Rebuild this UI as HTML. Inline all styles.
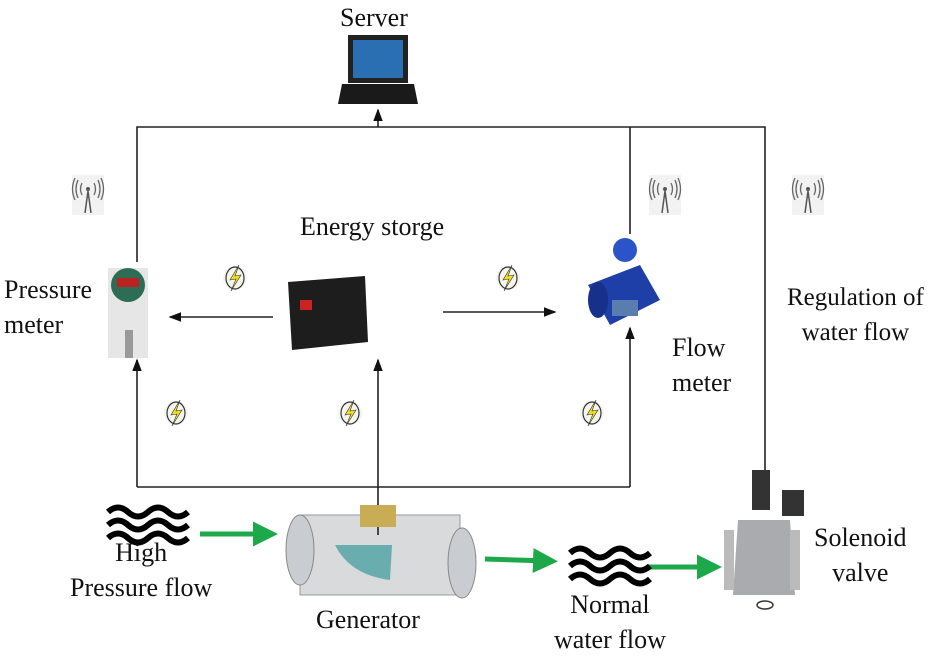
<!DOCTYPE html>
<html><head><meta charset="utf-8"><style>
html,body{margin:0;padding:0;background:#fff}
body{width:950px;height:652px;position:relative;overflow:hidden;font-family:"Liberation Serif",serif;color:#111}
.t{position:absolute;font-size:26px;line-height:35px;text-align:center;white-space:nowrap}
svg{position:absolute;left:0;top:0}
</style></head><body>
<svg width="950" height="652" viewBox="0 0 950 652">
<defs>
<marker id="a" markerWidth="8" markerHeight="8" refX="7" refY="4" orient="auto"><path d="M0,1 L8,4 L0,7z" fill="#111"/></marker>
<marker id="g" markerWidth="5" markerHeight="5" refX="3" refY="2.5" orient="auto"><path d="M0,0 L5,2.5 L0,5z" fill="#1da84a"/></marker>
<g id="bolt"><circle cx="0" cy="0" r="12" fill="#f4f4f0"/><ellipse cx="0" cy="0" rx="9" ry="11" fill="none" stroke="#333" stroke-width="1.2"/><path d="M4,-13 L-5,2 L1,1 L-4,13 L6,-3 L0,-2z" fill="#f2e020" stroke="#333" stroke-width="0.6"/></g>
<g id="ant"><rect x="-16" y="-18" width="32" height="40" fill="#f2f2f2"/><path d="M-3,20 L0,-2 L3,20" fill="none" stroke="#555" stroke-width="1.5"/><circle cx="0" cy="-4" r="2" fill="#555"/><path d="M-6,-10 Q-9,-4 -6,2 M6,-10 Q9,-4 6,2 M-10,-13 Q-14,-4 -10,5 M10,-13 Q14,-4 10,5 M-13,-15 Q-18,-4 -13,7 M13,-15 Q18,-4 13,7" fill="none" stroke="#666" stroke-width="1.3"/></g>
<g id="wave" fill="none" stroke="#000" stroke-width="6"><path d="M0,0 Q10,-9 20,0 T40,0 T60,0 T80,0"/><path d="M0,13 Q10,4 20,13 T40,13 T60,13 T80,13"/><path d="M0,26 Q10,17 20,26 T40,26 T60,26 T80,26"/></g>
</defs>
<g fill="none" stroke="#222" stroke-width="1.6">
<polyline points="137,262 137,127 765,127 765,470"/>
<line x1="630" y1="127" x2="630" y2="234"/>
<line x1="378" y1="127" x2="378" y2="110" marker-end="url(#a)"/>
<polyline points="137,487 630,487"/>
<line x1="137" y1="487" x2="137" y2="360" marker-end="url(#a)"/>
<line x1="378" y1="535" x2="378" y2="360" marker-end="url(#a)"/>
<line x1="630" y1="487" x2="630" y2="328" marker-end="url(#a)"/>
<line x1="273" y1="317" x2="170" y2="317" marker-end="url(#a)"/>
<line x1="443" y1="312" x2="555" y2="312" marker-end="url(#a)"/>
</g>
<g stroke="#1da84a" stroke-width="5" marker-end="url(#g)">
<line x1="200" y1="534" x2="268" y2="534"/>
<line x1="485" y1="559" x2="548" y2="561"/>
<line x1="648" y1="567" x2="712" y2="567"/>
</g>
<!-- laptop -->
<rect x="348" y="35" width="60" height="48" fill="#222"/><rect x="353" y="40" width="50" height="38" fill="#2b6fb3"/><path d="M342,84 L414,84 L418,104 L338,104z" fill="#1a1a1a"/>
<!-- pressure meter -->
<rect x="108" y="268" width="40" height="90" fill="#e6e6e6"/><circle cx="128" cy="285" r="17" fill="#2e6d55"/><rect x="117" y="278" width="22" height="9" fill="#b22"/><rect x="125" y="330" width="8" height="28" fill="#999"/>
<!-- battery -->
<path d="M288,282 L365,276 L368,342 L292,350z" fill="#1d1d1d"/><rect x="300" y="300" width="12" height="10" fill="#c22"/>
<!-- flow meter -->
<path d="M588,285 L640,265 L660,300 L610,325z" fill="#1f3fa8"/><ellipse cx="598" cy="300" rx="10" ry="18" fill="#17308a"/><circle cx="625" cy="250" r="12" fill="#2b54c9"/><rect x="612" y="300" width="26" height="16" fill="#5a7db0"/>
<!-- generator -->
<rect x="300" y="515" width="160" height="80" fill="#d8dadc" stroke="#999"/><ellipse cx="300" cy="550" rx="14" ry="35" fill="#c9ccd0" stroke="#888"/><ellipse cx="462" cy="563" rx="14" ry="35" fill="#c9ccd0" stroke="#888"/><path d="M335,545 Q350,575 390,580 L392,545z" fill="#3b9a9a" opacity=".7"/><rect x="360" y="505" width="36" height="22" fill="#c8ad55"/><line x1="378" y1="527" x2="378" y2="535" stroke="#222" stroke-width="1.6"/>
<!-- valve -->
<rect x="752" y="470" width="18" height="40" fill="#333"/><rect x="782" y="490" width="22" height="26" fill="#333"/><path d="M738,520 L790,520 L795,595 L733,595z" fill="#a9abae"/><rect x="724" y="530" width="10" height="60" fill="#bbb"/><rect x="790" y="530" width="10" height="60" fill="#bbb"/><ellipse cx="765" cy="605" rx="8" ry="4" fill="none" stroke="#333" stroke-width="1.5"/>
<use href="#bolt" x="235" y="278"/><use href="#bolt" x="508" y="278"/><use href="#bolt" x="176" y="413"/><use href="#bolt" x="350" y="413"/><use href="#bolt" x="592" y="413"/>
<use href="#ant" x="88" y="193"/><use href="#ant" x="665" y="193"/><use href="#ant" x="808" y="193"/>
<use href="#wave" x="108" y="512"/><use href="#wave" x="570" y="553"/>
</svg>
<div class="t" style="left:340px;top:0px">Server</div>
<div class="t" style="left:300px;top:209px">Energy storge</div>
<div class="t" style="left:4px;top:272px;text-align:left">Pressure<br>meter</div>
<div class="t" style="left:672px;top:330px;text-align:left">Flow<br>meter</div>
<div class="t" style="left:787px;top:280px;font-size:25px">Regulation of<br>water flow</div>
<div class="t" style="left:814px;top:520px">Solenoid<br>valve</div>
<div class="t" style="left:70px;top:535px">High<br>Pressure flow</div>
<div class="t" style="left:316px;top:602px">Generator</div>
<div class="t" style="left:554px;top:587px">Normal<br>water flow</div>
</body></html>
